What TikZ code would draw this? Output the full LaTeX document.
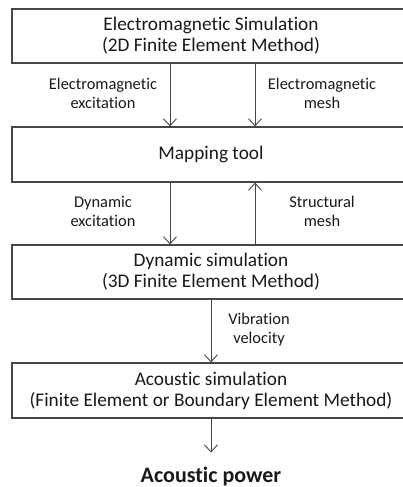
\documentclass[tikz,border=0pt]{standalone}
\usepackage{fontspec}
\setmainfont{Carlito}[Ligatures=NoCommon]
\usetikzlibrary{arrows.meta}
\definecolor{linegray}{RGB}{70,70,70}
\definecolor{txtgray}{RGB}{25,25,25}
\tikzset{
  stage/.style={rectangle, draw=linegray, line width=1.2pt, minimum width=398pt, minimum height=55pt, inner sep=0pt, align=center, text=txtgray, font=\fontsize{19.3}{21}\selectfont},
  lbl/.style={rectangle, draw=none, align=center, text=txtgray, font=\fontsize{16.4}{19}\selectfont},
  flow/.style={-{Straight Barb[length=7pt,width=13pt]}, draw=linegray, line width=0.9pt}
}
\begin{document}
\begin{tikzpicture}[x=1pt, y=-1pt]
\useasboundingbox (0,0) rectangle (402,487);
%%%%%%%%%%%%%%%%%%%%%%%%%%%%%%% simulation chain
\node[stage, minimum height=54pt](emSim) at (211,36){Electromagnetic Simulation\\(2D Finite Element Method)};
\node[stage](mapTool) at (211,154.5){Mapping tool};
\node[stage, minimum height=54pt](dynSim) at (211,272){Dynamic simulation\\(3D Finite Element Method)};
\node[stage](acSim) at (211,390.5){Acoustic simulation\\(Finite Element or Boundary Element Method)};
\node[rectangle, draw=none, text=txtgray, font=\bfseries\fontsize{22}{24}\selectfont](acPower) at (211,476.5){Acoustic power};
%%%%%%%%%%%%%%%%%%%%%%%%%%%%%%% exchanged data
\node[lbl](lEmExc) at (103,93.5){Electromagnetic\\excitation};
\node[lbl](lEmMesh) at (322,93.5){Electromagnetic\\mesh};
\node[lbl](lDynExc) at (103,211.5){Dynamic\\excitation};
\node[lbl](lStrMesh) at (322,211.5){Structural\\mesh};
\node[lbl](lVib) at (259,330){Vibration\\velocity};
\draw[flow] ([xshift=-41pt]emSim.south) -- ([xshift=-41pt]mapTool.north);
\draw[flow] ([xshift=44pt]emSim.south) -- ([xshift=44pt]mapTool.north);
\draw[flow] ([xshift=-41pt]mapTool.south) -- ([xshift=-41pt]dynSim.north);
\draw[flow] ([xshift=44pt]dynSim.north) -- ([xshift=44pt]mapTool.south);
\draw[flow] (dynSim.south) -- (acSim.north);
\draw[flow, shorten >=11pt] (acSim.south) -- (acPower.north);
\end{tikzpicture}
\end{document}
